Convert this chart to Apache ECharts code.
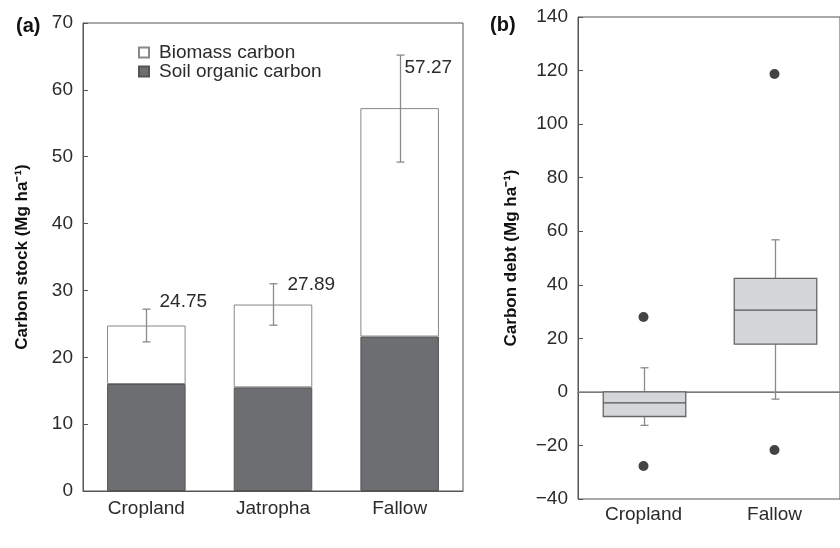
<!DOCTYPE html>
<html>
<head>
<meta charset="utf-8">
<script src="https://cdn.jsdelivr.net/npm/echarts@6/dist/echarts.min.js"></script>
<style>
html,body{margin:0;padding:0;background:#fff;}
#main{width:840px;height:548px;}
</style>
</head>
<body>
<div id="main"></div>
<script>
// (a) carbon stock
var stockCats = ['Cropland', 'Jatropha', 'Fallow'];
var soilCarbon = [16.0, 15.5, 23.1];
var biomassCarbon = [8.75, 12.39, 34.17];
var stockTotals = ['24.75', '27.89', '57.27'];
var errLow = [22.3, 24.8, 49.2];
var errHigh = [27.2, 31.0, 65.2];

// (b) carbon debt boxplots: [whiskerLow, q1, median, q3, whiskerHigh]
var debtCats = ['Cropland', 'Fallow'];
var debtBoxes = [
  [-12.5, -9.2, -4.1, 0, 9.0],
  [-2.7, 17.8, 30.5, 42.4, 56.8]
];
var debtOutliers = [[0, 28.0], [0, -27.7], [1, 118.7], [1, -21.7]];

var font = 'Liberation Sans, Arial, sans-serif';
var textCol = '#2b2b2b';
var axisCol = '#555';

var myChart = echarts.init(document.getElementById('main'));

// label nudges, px (right of the error bar top)
var labelNudge = [[13, -7], [14, 1], [4, 13]];

var errData = stockCats.map(function (c, i) { return [i, errLow[i], errHigh[i], i]; });
var boxData = debtBoxes.map(function (b, i) { return [i].concat(b); });

option = {
  animation: false,
  textStyle: { fontFamily: font },
  graphic: [
    { type: 'text', left: 16, top: 16, style: { text: '(a)', font: 'bold 20px ' + font, fill: '#111' } },
    { type: 'text', left: 490, top: 15, style: { text: '(b)', font: 'bold 20px ' + font, fill: '#111' } }
  ],
  legend: {
    orient: 'vertical',
    left: 133, top: 38,
    itemWidth: 10, itemHeight: 10, itemGap: 0,
    icon: 'rect',
    data: ['Biomass carbon', 'Soil organic carbon'],
    textStyle: { fontSize: 19, lineHeight: 18, color: textCol, fontFamily: font, padding: [0, 0, 0, 5] }
  },
  grid: [
    { left: 83, top: 23, width: 380, height: 468, show: true, borderColor: axisCol, borderWidth: 1 },
    { left: 578, top: 17, width: 276, height: 482, show: true, borderColor: axisCol, borderWidth: 1 }
  ],
  xAxis: [
    {
      gridIndex: 0, type: 'category', data: stockCats,
      axisLine: { lineStyle: { color: axisCol } }, axisTick: { show: false },
      axisLabel: { fontSize: 19, color: textCol, margin: 8 }
    },
    {
      gridIndex: 1, type: 'category', data: debtCats,
      axisLine: { lineStyle: { color: axisCol } }, axisTick: { show: false },
      axisLabel: { fontSize: 19, color: textCol, margin: 6 }
    }
  ],
  yAxis: [
    {
      gridIndex: 0, type: 'value', min: 0, max: 70, interval: 10,
      name: 'Carbon stock (Mg ha\u207B\u00B9)', nameLocation: 'middle', nameGap: 52,
      nameTextStyle: { fontSize: 17, fontWeight: 'bold', color: '#111' },
      axisLine: { show: true, lineStyle: { color: axisCol } },
      axisTick: { show: true, inside: true, length: 5, lineStyle: { color: axisCol } },
      splitLine: { show: false },
      axisLabel: { fontSize: 19, color: textCol, margin: 10 }
    },
    {
      gridIndex: 1, type: 'value', min: -40, max: 140, interval: 20,
      name: 'Carbon debt (Mg ha\u207B\u00B9)', nameLocation: 'middle', nameGap: 58,
      nameTextStyle: { fontSize: 17, fontWeight: 'bold', color: '#111' },
      axisLine: { show: true, lineStyle: { color: axisCol } },
      axisTick: { show: true, inside: true, length: 5, lineStyle: { color: axisCol } },
      splitLine: { show: false },
      axisLabel: {
        fontSize: 19, color: textCol, margin: 10,
        formatter: function (v) { return v < 0 ? '\u2212' + (-v) : String(v); }
      }
    }
  ],
  series: [
    {
      name: 'Soil organic carbon', type: 'bar', stack: 'c', xAxisIndex: 0, yAxisIndex: 0,
      barWidth: '62%', data: soilCarbon,
      itemStyle: { color: '#6d6e71', borderColor: '#555', borderWidth: 1 }
    },
    {
      name: 'Biomass carbon', type: 'bar', stack: 'c', xAxisIndex: 0, yAxisIndex: 0,
      barWidth: '62%', data: biomassCarbon,
      itemStyle: { color: '#fff', borderColor: '#888', borderWidth: 1 }
    },
    {
      type: 'custom', xAxisIndex: 0, yAxisIndex: 0, data: errData, z: 5,
      renderItem: function (params, api) {
        var i = api.value(3);
        var lo = api.coord([api.value(0), api.value(1)]);
        var hi = api.coord([api.value(0), api.value(2)]);
        var x = Math.round(lo[0]) + 0.5;
        var st = { stroke: '#8a8a8a', lineWidth: 1.3 };
        var nd = labelNudge[i];
        return {
          type: 'group',
          children: [
            { type: 'line', shape: { x1: x, y1: lo[1], x2: x, y2: hi[1] }, style: st },
            { type: 'line', shape: { x1: x - 4, y1: lo[1], x2: x + 4, y2: lo[1] }, style: st },
            { type: 'line', shape: { x1: x - 4, y1: hi[1], x2: x + 4, y2: hi[1] }, style: st },
            {
              type: 'text', x: x + nd[0], y: hi[1] + nd[1],
              style: { text: stockTotals[i], font: '19px ' + font, fill: textCol, align: 'left', verticalAlign: 'middle' }
            }
          ]
        };
      }
    },
    {
      type: 'custom', xAxisIndex: 1, yAxisIndex: 1, data: boxData, z: 5,
      renderItem: function (params, api) {
        var c = api.value(0);
        var wl = api.coord([c, api.value(1)]);
        var q1 = api.coord([c, api.value(2)]);
        var md = api.coord([c, api.value(3)]);
        var q3 = api.coord([c, api.value(4)]);
        var wh = api.coord([c, api.value(5)]);
        var bw = api.size([1, 0])[0] * 0.63;
        var x = Math.round(wl[0]) + 0.5;
        var wst = { stroke: '#8a8a8a', lineWidth: 1.3 };
        return {
          type: 'group',
          children: [
            { type: 'line', shape: { x1: x, y1: q3[1], x2: x, y2: wh[1] }, style: wst },
            { type: 'line', shape: { x1: x, y1: q1[1], x2: x, y2: wl[1] }, style: wst },
            { type: 'line', shape: { x1: x - 4, y1: wh[1], x2: x + 4, y2: wh[1] }, style: wst },
            { type: 'line', shape: { x1: x - 4, y1: wl[1], x2: x + 4, y2: wl[1] }, style: wst },
            {
              type: 'rect', shape: { x: x - bw / 2, y: q3[1], width: bw, height: q1[1] - q3[1] },
              style: { fill: '#d5d6d8', stroke: '#666', lineWidth: 1.3 }
            },
            { type: 'line', shape: { x1: x - bw / 2, y1: md[1], x2: x + bw / 2, y2: md[1] }, style: { stroke: '#555', lineWidth: 1.2 } }
          ]
        };
      }
    },
    {
      type: 'scatter', xAxisIndex: 1, yAxisIndex: 1, data: debtOutliers,
      symbolSize: 10, itemStyle: { color: '#151515' }, z: 6,
      markLine: {
        silent: true, symbol: 'none', label: { show: false },
        lineStyle: { color: '#888', width: 1.5, type: 'solid' },
        data: [{ yAxis: 0 }]
      }
    }
  ]
};

myChart.setOption(option);
</script>
</body>
</html>
